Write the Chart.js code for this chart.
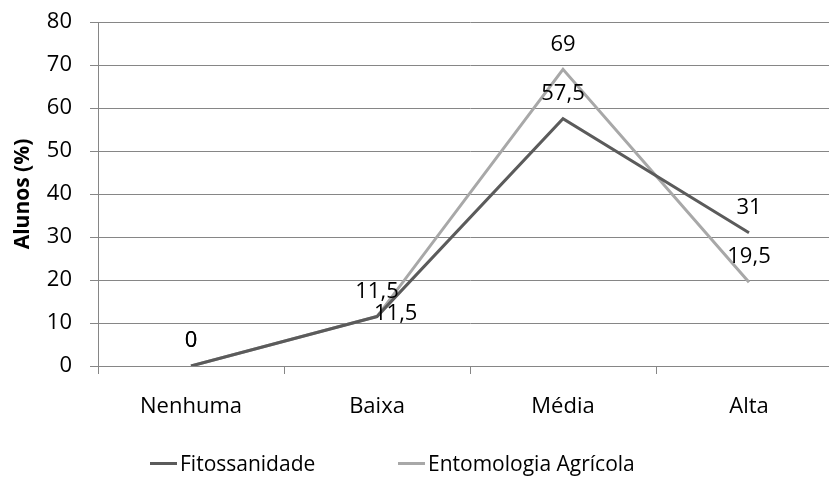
<!DOCTYPE html>
<html lang="pt">
<head>
<meta charset="utf-8">
<title>Alunos (%)</title>
<script src="https://cdn.jsdelivr.net/npm/chart.js@4/dist/chart.umd.min.js"></script>
<style>
  html, body { margin: 0; padding: 0; background: #fff; overflow: hidden; }
  #wrap { position: relative; width: 829px; height: 484px; overflow: hidden; }
  canvas { position: absolute; left: 0; top: 0; }
  .legend { position: absolute; top: 448px; left: 0; width: 829px; height: 30px;
            font-family: "Open Sans", Lato, sans-serif; font-size: 21px; color: #000; }
  .item { position: absolute; top: 0; display: flex; align-items: center; height: 30px; white-space: nowrap; }
  .swatch { display: inline-block; width: 27px; height: 3px; margin-right: 3px; }
</style>
</head>
<body>
<div id="wrap">
  <canvas id="chart" width="850" height="484"></canvas>
  <div class="legend" id="legend"></div>
</div>
<script>
// Nível de conhecimento declarado pelos alunos, por disciplina
const categories = ['Nenhuma', 'Baixa', 'Média', 'Alta'];
const fitossanidade = [0, 11.5, 57.5, 31];
const entomologiaAgricola = [0, 11.5, 69, 19.5];
const yTicks = [0, 10, 20, 30, 40, 50, 60, 70, 80];
const seriesNames = ['Fitossanidade', 'Entomologia Agrícola'];
const seriesColors = ['#5b5b5b', '#a8a8a8'];

// where each value label sits relative to its point
const labelPlacement = [
  ['above', 'above', 'above', 'above'],
  ['above', 'right', 'above', 'above']
];

const FONT = '"Open Sans", Lato, sans-serif';
const FONT_SIZE = 22;

const valueLabels = {
  id: 'valueLabels',
  afterDatasetsDraw(chart) {
    const ctx = chart.ctx;
    ctx.save();
    ctx.font = FONT_SIZE + 'px ' + FONT;
    ctx.fillStyle = '#000';
    ctx.textBaseline = 'middle';
    chart.data.datasets.forEach((ds, di) => {
      const meta = chart.getDatasetMeta(di);
      meta.data.forEach((pt, i) => {
        const txt = String(ds.data[i]).replace('.', ',');
        const place = labelPlacement[di][i];
        if (place === 'right') {
          ctx.textAlign = 'left';
          ctx.fillText(txt, pt.x - 3, pt.y - 3);
        } else {
          ctx.textAlign = 'center';
          ctx.fillText(txt, pt.x, pt.y - 25);
        }
      });
    });
    ctx.restore();
  }
};

new Chart(document.getElementById('chart'), {
  type: 'line',
  data: {
    labels: categories,
    datasets: [
      { label: seriesNames[0], data: fitossanidade, borderColor: seriesColors[0],
        borderWidth: 3, pointRadius: 0, tension: 0, fill: false },
      { label: seriesNames[1], data: entomologiaAgricola, borderColor: seriesColors[1],
        borderWidth: 3, pointRadius: 0, tension: 0, fill: false }
    ]
  },
  options: {
    responsive: false,
    animation: false,
    layout: { padding: { left: 0, right: 8, top: 22, bottom: 58 } },
    plugins: { legend: { display: false }, tooltip: { enabled: false } },
    scales: {
      x: {
        offset: true,
        afterFit(scale) { scale.height = 60; },
        grid: { offset: true, drawOnChartArea: false, drawTicks: true, tickLength: 8,
                color: '#868686', lineWidth: 1 },
        border: { display: false },
        ticks: { color: '#000', font: { family: FONT, size: FONT_SIZE }, padding: 20, maxRotation: 0 }
      },
      y: {
        min: 0, max: 80,
        afterFit(scale) {
          scale.width = 98;
          scale.paddingTop = 0;
          scale.paddingBottom = 0;
        },
        afterBuildTicks(scale) { scale.ticks = yTicks.map(v => ({ value: v })); },
        grid: { color: '#868686', lineWidth: 1, tickLength: 8 },
        border: { display: true, color: '#868686', width: 1 },
        ticks: { color: '#000', font: { family: FONT, size: FONT_SIZE }, padding: 18 },
        title: { display: true, text: 'Alunos (%)', color: '#000',
                 font: { family: FONT, size: 21, weight: 'bold' }, padding: { top: 10, bottom: 0 } }
      }
    }
  },
  plugins: [valueLabels]
});

// legend entries
const legend = document.getElementById('legend');
const legendX = [150, 398];
seriesNames.forEach((name, i) => {
  const item = document.createElement('div');
  item.className = 'item';
  item.style.left = legendX[i] + 'px';
  const sw = document.createElement('span');
  sw.className = 'swatch';
  sw.style.background = seriesColors[i];
  item.appendChild(sw);
  item.appendChild(document.createTextNode(name));
  legend.appendChild(item);
});
</script>
</body>
</html>
